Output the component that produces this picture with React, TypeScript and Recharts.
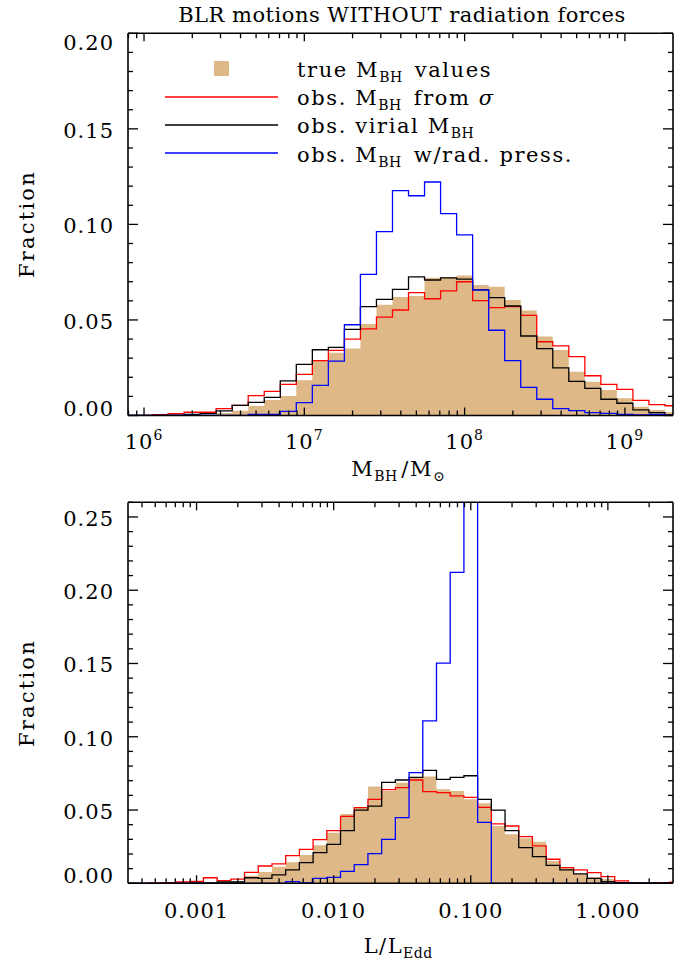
import React from 'react';
import { ComposedChart, Area, Line, XAxis, YAxis, Legend } from 'recharts';

// top panel: bin centres in log10(M_BH / M_sun), 0.1 dex wide
const massBins = [
  5.9, 6.0, 6.1, 6.2, 6.3, 6.4, 6.5, 6.6, 6.7, 6.8, 6.9, 7.0, 7.1, 7.2, 7.3, 7.4, 7.5, 7.6,
  7.7, 7.8, 7.9, 8.0, 8.1, 8.2, 8.3, 8.4, 8.5, 8.6, 8.7, 8.8, 8.9, 9.0, 9.1, 9.2, 9.3,
];
const massTrue = [
  0, 0, 0, 0, 0.0003, 0.0003, 0.0013, 0.0025, 0.005, 0.0081, 0.0102, 0.0184, 0.0287, 0.0329,
  0.0351, 0.0479, 0.058, 0.062, 0.0625, 0.0721, 0.0723, 0.0733, 0.0683, 0.0674, 0.0604, 0.0549,
  0.0413, 0.0343, 0.0229, 0.0177, 0.0133, 0.009, 0.0046, 0.0029, 0.0017,
];
const massSigma = [
  0, 0.0001, 0.0004, 0.001, 0.0017, 0.0017, 0.0036, 0.0053, 0.0104, 0.0126, 0.0163, 0.0215,
  0.0287, 0.0341, 0.04, 0.0453, 0.0515, 0.0552, 0.0643, 0.0611, 0.0652, 0.07, 0.0601, 0.0564,
  0.057, 0.0524, 0.0386, 0.0364, 0.0308, 0.0208, 0.0163, 0.0137, 0.0079, 0.0057, 0.0051,
];
const massVirial = [
  0, 0, 0, 0.0002, 0.0006, 0.001, 0.0024, 0.0053, 0.0069, 0.0095, 0.0181, 0.0268, 0.0344,
  0.0357, 0.0451, 0.057, 0.0608, 0.066, 0.0725, 0.0709, 0.072, 0.0714, 0.0657, 0.0617, 0.0573,
  0.0416, 0.035, 0.0249, 0.0179, 0.0142, 0.0085, 0.0064, 0.0029, 0.0015, 0.0003,
];
const massRad = [
  0, 0, 0, 0, 0, 0, 0, 0, 0.0006, 0.0006, 0.0022, 0.0067, 0.0158, 0.0285, 0.0475, 0.0739,
  0.0962, 0.1177, 0.115, 0.1222, 0.1056, 0.0945, 0.0657, 0.0446, 0.0287, 0.0147, 0.0085,
  0.0036, 0.0025, 0.0015, 0.0011, 0.0006, 0.0003, 0.0006, 0,
];

// bottom panel: bin centres in log10(L / L_Edd)
const eddBins = [
  -3.5, -3.4, -3.3, -3.2, -3.1, -3.0, -2.9, -2.8, -2.7, -2.6, -2.5, -2.4, -2.3, -2.2, -2.1,
  -2.0, -1.9, -1.8, -1.7, -1.6, -1.5, -1.4, -1.3, -1.2, -1.1, -1.0, -0.9, -0.8, -0.7, -0.6,
  -0.5, -0.4, -0.3, -0.2, -0.1, 0.0, 0.1, 0.2, 0.3, 0.4, 0.5,
];
const eddTrue = [
  0, 0, 0, 0, 0, 0.0007, 0.0002, 0.0009, 0.0013, 0.0052, 0.0077, 0.0113, 0.0143, 0.0193,
  0.0259, 0.0345, 0.0473, 0.0516, 0.0661, 0.063, 0.0687, 0.0723, 0.0728, 0.0641, 0.063, 0.0573,
  0.0546, 0.0391, 0.0334, 0.0307, 0.0284, 0.0152, 0.0102, 0.0064, 0.0041, 0.003, 0.0011,
  0.0005, 0, 0, 0,
];
const eddSigma = [
  0, 0, 0.0002, 0.0004, 0.0009, 0.0013, 0.0038, 0.0018, 0.0029, 0.0075, 0.0118, 0.0132,
  0.0189, 0.0232, 0.0298, 0.0359, 0.0457, 0.0516, 0.0573, 0.0639, 0.0653, 0.0705, 0.0625,
  0.0619, 0.0596, 0.0587, 0.0518, 0.0405, 0.0391, 0.0318, 0.0255, 0.0164, 0.0107, 0.0091,
  0.0073, 0.0045, 0.0016, 0.0005, 0.0001, 0.0005, 0.0007,
];
const eddVirial = [
  0, 0, 0, 0, 0, 0.0002, 0.0003, 0.0009, 0.0009, 0.0038, 0.0034, 0.0057, 0.0091, 0.0141,
  0.0209, 0.0266, 0.0359, 0.05, 0.0527, 0.0689, 0.0705, 0.0723, 0.0771, 0.0709, 0.0723, 0.0734,
  0.0573, 0.05, 0.0359, 0.0243, 0.0182, 0.0123, 0.0091, 0.0064, 0.0034, 0.0011, 0.0005, 0.0002,
  0.0002, 0.0001, 0,
];
const eddRad = [
  0, 0, 0, 0, 0, 0, 0, 0, 0, 0, 0, 0, 0.0011, 0.0002, 0.0034, 0.0041, 0.0082, 0.0127, 0.0202,
  0.03, 0.0448, 0.0755, 0.1108, 0.1503, 0.2122, 0.285, 0.0416, 0, 0, 0, 0, 0, 0, 0, 0, 0, 0, 0,
  0, 0, 0,
];

const massMajor = [6, 7, 8, 9];
const massExp = ['6', '7', '8', '9'];
const eddMajor = [-3, -2, -1, 0];
const eddLabels = ['0.001', '0.010', '0.100', '1.000'];
const fracTopMajor = [0, 0.05, 0.1, 0.15, 0.2];
const fracBotMajor = [0, 0.05, 0.1, 0.15, 0.2, 0.25];

const FONT = '"DejaVu Serif", serif';
const TAN = '#deb887';
const AX = 1.6;

const buildSteps = (bins: number[], cols: Record<string, number[]>) => {
  const half = (bins[1] - bins[0]) / 2;
  const rows: any[] = bins.map((c, i) => {
    const r: any = { x: +(c - half).toFixed(3) };
    for (const k in cols) r[k] = cols[k][i];
    return r;
  });
  const last = bins.length - 1;
  const end: any = { x: +(bins[last] + half).toFixed(3) };
  for (const k in cols) end[k] = cols[k][last];
  rows.push(end);
  return rows;
};

const logTicks = (lo: number, hi: number) => {
  const out: number[] = [];
  for (let d = Math.floor(lo); d <= Math.ceil(hi); d++)
    for (let k = 1; k < 10; k++) {
      const v = d + Math.log10(k);
      if (v >= lo - 1e-9 && v <= hi + 1e-9) out.push(v);
    }
  return out;
};

const linTicks = (hi: number) => {
  const out: number[] = [];
  for (let i = 0; i <= Math.round(hi * 100); i++) out.push(i / 100);
  return out;
};

const near = (list: number[], v: number) => list.findIndex((m) => Math.abs(m - v) < 1e-6);

const topData = buildSteps(massBins, { tru: massTrue, sig: massSigma, vir: massVirial, rad: massRad });
const botData = buildSteps(eddBins, { tru: eddTrue, sig: eddSigma, vir: eddVirial, rad: eddRad });

const Sub = ({ children }: { children: string }) => (
  <>
    <tspan fontSize={14} dy={5} letterSpacing={0.5}>{children}</tspan>
    <tspan dy={-5}>{'\u200a'}</tspan>
  </>
);

type Cfg = {
  top: number;
  height: number;
  data: any[];
  xDomain: [number, number];
  xMajor: number[];
  xLabel: (i: number, x: number, y: number) => React.ReactNode;
  yMax: number;
  yMajor: number[];
  legend?: boolean;
};

const LegendBox = () => (
  <svg width={440} height={120} style={{ overflow: 'visible', fontFamily: FONT }}>
    <rect x={54} y={6} width={15} height={15} fill={TAN} />
    <line x1={5} x2={118} y1={42} y2={42} stroke="#ff0000" strokeWidth={1.3} />
    <line x1={5} x2={118} y1={70} y2={70} stroke="#000" strokeWidth={1.3} />
    <line x1={5} x2={118} y1={98} y2={98} stroke="#0000ff" strokeWidth={1.3} />
    <g fontSize={21} fill="#000" letterSpacing={1.6}>
      <text x={137} y={22}>true M<Sub>BH</Sub> values</text>
      <text x={137} y={50}>
        obs. M<Sub>BH</Sub> from <tspan fontStyle="italic">{'\u03c3'}</tspan>
      </text>
      <text x={137} y={78}>obs. virial M<Sub>BH</Sub></text>
      <text x={137} y={107}>obs. M<Sub>BH</Sub> w/rad. press.</text>
    </g>
  </svg>
);

const Panel = ({ top, height, data, xDomain, xMajor, xLabel, yMax, yMajor, legend }: Cfg) => {
  const xTicks = logTicks(xDomain[0], xDomain[1]);
  const yTicks = linTicks(yMax);
  const plotTop = top === 0 ? 33.3 : 502.3 - top;
  const plotBottom = top === 0 ? 415.5 : 883.3 - top;

  const bottomTick = (p: any) => {
    const i = near(xMajor, p.payload.value);
    return (
      <g>
        <line x1={p.x} x2={p.x} y1={p.y} y2={p.y - (i >= 0 ? 8 : 5)} stroke="#000" strokeWidth={1.3} />
        {i >= 0 && xLabel(i, p.x, p.y)}
      </g>
    );
  };
  const topTick = (p: any) => {
    const i = near(xMajor, p.payload.value);
    return <line x1={p.x} x2={p.x} y1={p.y} y2={p.y + (i >= 0 ? 8 : 5)} stroke="#000" strokeWidth={1.3} />;
  };
  const leftTick = (p: any) => {
    const v = p.payload.value;
    const i = near(yMajor, v);
    let shift = 0;
    if (Math.abs(v) < 1e-9) shift = -9;
    if (Math.abs(v - yMax) < 1e-9) shift = 8;
    return (
      <g>
        <line x1={p.x} x2={p.x + (i >= 0 ? 10 : 5)} y1={p.y} y2={p.y} stroke="#000" strokeWidth={1.3} />
        {i >= 0 && (
          <text x={p.x - 14} y={p.y + 9 + shift} textAnchor="end" fontFamily={FONT} fontSize={21} letterSpacing={1} fill="#000">
            {v.toFixed(2)}
          </text>
        )}
      </g>
    );
  };
  const rightTick = (p: any) => {
    const i = near(yMajor, p.payload.value);
    return <line x1={p.x} x2={p.x - (i >= 0 ? 10 : 5)} y1={p.y} y2={p.y} stroke="#000" strokeWidth={1.3} />;
  };

  return (
    <div style={{ position: 'absolute', left: 0, top, width: 699, height }}>
      <ComposedChart
        width={699}
        height={height}
        data={data}
        margin={{ top: plotTop - 10, left: 68, right: 16, bottom: height - plotBottom - 30 }}
      >
        <XAxis
          xAxisId="b"
          dataKey="x"
          type="number"
          domain={xDomain}
          allowDataOverflow
          ticks={xTicks}
          interval={0}
          height={30}
          tickSize={0}
          tickMargin={0}
          tick={bottomTick}
          axisLine={{ stroke: '#000', strokeWidth: AX }}
        />
        <XAxis
          xAxisId="t"
          dataKey="x"
          orientation="top"
          type="number"
          domain={xDomain}
          allowDataOverflow
          ticks={xTicks}
          interval={0}
          height={10}
          tickSize={0}
          tickMargin={0}
          tick={topTick}
          axisLine={{ stroke: '#000', strokeWidth: AX }}
        />
        <YAxis
          yAxisId="l"
          type="number"
          domain={[0, yMax]}
          allowDataOverflow
          ticks={yTicks}
          interval={0}
          width={60}
          tickSize={0}
          tickMargin={0}
          tick={leftTick}
          axisLine={{ stroke: '#000', strokeWidth: AX }}
        />
        <YAxis
          yAxisId="r"
          orientation="right"
          type="number"
          domain={[0, yMax]}
          allowDataOverflow
          ticks={yTicks}
          interval={0}
          width={10}
          tickSize={0}
          tickMargin={0}
          tick={rightTick}
          axisLine={{ stroke: '#000', strokeWidth: AX }}
        />
        {legend && (
          <Legend
            layout="vertical"
            align="center"
            verticalAlign="middle"
            content={() => <LegendBox />}
            wrapperStyle={{ position: 'absolute', left: 160, top: 55, width: 440, height: 120 }}
          />
        )}
        <Area xAxisId="b" yAxisId="l" type="stepAfter" dataKey="tru" fill={TAN} fillOpacity={1} stroke="none" isAnimationActive={false} />
        <Line xAxisId="b" yAxisId="l" type="stepAfter" dataKey="sig" stroke="#ff0000" strokeWidth={1.3} dot={false} activeDot={false} isAnimationActive={false} />
        <Line xAxisId="b" yAxisId="l" type="stepAfter" dataKey="vir" stroke="#000000" strokeWidth={1.3} dot={false} activeDot={false} isAnimationActive={false} />
        <Line xAxisId="b" yAxisId="l" type="stepAfter" dataKey="rad" stroke="#0000ff" strokeWidth={1.3} dot={false} activeDot={false} isAnimationActive={false} />
      </ComposedChart>
    </div>
  );
};

export default function App() {
  return (
    <div style={{ position: 'absolute', left: 0, top: 0, width: 699, height: 965, background: '#fff', fontFamily: FONT }}>
      <Panel
        top={0}
        height={470}
        data={topData}
        xDomain={[5.9, 9.3]}
        xMajor={massMajor}
        xLabel={(i, x, y) => (
          <text x={x} y={y + 33} textAnchor="middle" fontFamily={FONT} fontSize={21} letterSpacing={1} fill="#000">
            10<tspan fontSize={14} dy={-9}>{massExp[i]}</tspan>
          </text>
        )}
        yMax={0.2}
        yMajor={fracTopMajor}
        legend
      />
      <Panel
        top={470}
        height={495}
        data={botData}
        xDomain={[-3.5, 0.475]}
        xMajor={eddMajor}
        xLabel={(i, x, y) => (
          <text x={x} y={y + 35} textAnchor="middle" fontFamily={FONT} fontSize={21} letterSpacing={1} fill="#000">
            {eddLabels[i]}
          </text>
        )}
        yMax={0.26}
        yMajor={fracBotMajor}
      />
      <svg width={699} height={965} style={{ position: 'absolute', left: 0, top: 0, pointerEvents: 'none' }}>
        <g fontFamily={FONT} fontSize={21} fill="#000">
          <text x={402} y={22} textAnchor="middle" letterSpacing={0.5}>BLR motions WITHOUT radiation forces</text>
          <text x={400} y={476} textAnchor="middle" letterSpacing={1.5}>
            M<Sub>BH</Sub>/M<Sub>{'\u2299'}</Sub>
          </text>
          <text x={400} y={953} textAnchor="middle" letterSpacing={1.5}>
            L/L<Sub>Edd</Sub>
          </text>
          <text transform="translate(34,224) rotate(-90)" textAnchor="middle" letterSpacing={2.2}>Fraction</text>
          <text transform="translate(34,693) rotate(-90)" textAnchor="middle" letterSpacing={2.2}>Fraction</text>
        </g>
      </svg>
    </div>
  );
}
